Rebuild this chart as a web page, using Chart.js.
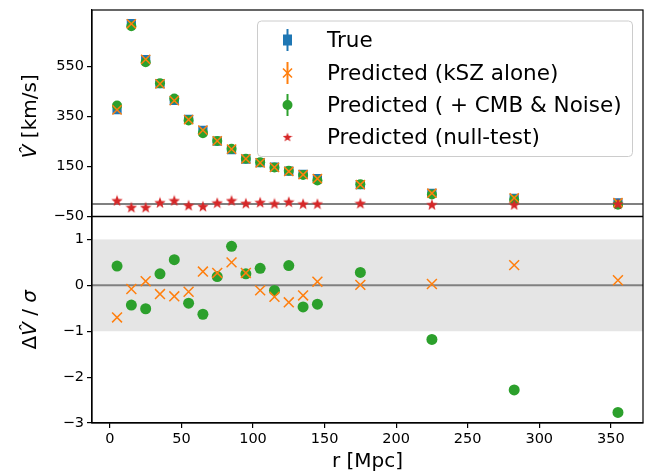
<!DOCTYPE html>
<html>
<head>
<meta charset="utf-8">
<script src="https://cdn.jsdelivr.net/npm/chart.js@4.4.0/dist/chart.umd.min.js"></script>
<style>
  html, body { margin: 0; padding: 0; background: #fff; }
  #wrap { position: relative; width: 647px; height: 475px; }
</style>
</head>
<body>
<div id="wrap"><canvas id="chart" width="647" height="475" style="width:647px;height:475px"></canvas></div>
<script>
// radial bins [Mpc]
const R = [5, 15, 25, 35, 45, 55, 65, 75, 85, 95, 105, 115, 125, 135, 145, 175, 225, 282.5, 355];

// top panel: velocity [km/s]
const V_TRUE = [377, 721, 577, 481, 414, 338, 294, 251, 217, 179, 165, 147, 131, 118, 101, 77, 43, 23, 5];
const V_KSZ  = [376, 720, 578, 480, 413, 337, 295, 252, 219, 180, 164, 146, 130, 117, 101, 77, 43, 24, 5];
const V_CMB  = [393, 710, 566, 482, 421, 334, 283, 252, 221, 181, 167, 146, 133, 116, 94, 79, 38, 17, -3];
const V_NULL = [14, -13, -13, 6, 14, -5, -9, 5, 14, 3, 7, 2, 9, 1, 1, 3, -2, -2, 1];

// bottom panel: residuals in units of sigma
const D_KSZ = [-0.70, -0.08, 0.09, -0.19, -0.24, -0.14, 0.30, 0.27, 0.50, 0.27, -0.11, -0.25, -0.37, -0.22, 0.08, 0.01, 0.03, 0.44, 0.11];
const D_CMB = [0.42, -0.43, -0.51, 0.25, 0.56, -0.39, -0.63, 0.19, 0.85, 0.25, 0.37, -0.11, 0.43, -0.47, -0.41, 0.28, -1.18, -2.28, -2.77];

// axes
const X_TICKS = [0, 50, 100, 150, 200, 250, 300, 350];
const V_TICKS = [-50, 150, 350, 550];
const D_TICKS = [-3, -2, -1, 0, 1];
const X_RANGE = [-12.5, 372.5];
const V_RANGE = [-50, 775];
const D_RANGE = [-3, 1.5];
const BAND = [-1, 1];

const LABELS = ['True', 'Predicted (kSZ alone)', 'Predicted ( + CMB & Noise)', 'Predicted (null-test)'];
const COLORS = ['#1f77b4', '#ff7f0e', '#2ca02c', '#d62728'];

const FONT = 'DejaVu Sans';

function pts(xs, ys) {
  return xs.map((x, i) => ({ x, y: ys[i] }));
}

function makeStar(size, color) {
  const c = document.createElement('canvas');
  c.width = c.height = size;
  const g = c.getContext('2d');
  const ro = size / 2, ri = ro * 0.42;
  const cx = size / 2, cy = size / 2 + size * 0.05;
  g.beginPath();
  for (let i = 0; i < 10; i++) {
    const r = i % 2 ? ri : ro;
    const a = -Math.PI / 2 + i * Math.PI / 5;
    g.lineTo(cx + r * Math.cos(a), cy + r * Math.sin(a));
  }
  g.closePath();
  g.fillStyle = color;
  g.fill();
  return c;
}

const star = makeStar(12, COLORS[3]);

const fixedTicks = values => scale => { scale.ticks = values.map(v => ({ value: v })); };
const minus = v => String(v).replace('-', '\u2212');
const noPad = s => { s.paddingLeft = s.paddingRight = s.paddingTop = s.paddingBottom = 0; };

function axisStyle() {
  return {
    grid: { display: true, drawOnChartArea: false, drawTicks: true, tickLength: 5, color: '#000', lineWidth: 1.2 },
    border: { display: true, color: '#000', width: 1.2 },
    ticks: { font: { family: FONT, size: 14.5 }, color: '#000', padding: 3, autoSkip: false, maxRotation: 0, callback: minus }
  };
}

// draw text pieces with mixed italic/upright, rotated
function drawRotatedTitle(ctx, parts, cx, cy, size) {
  ctx.save();
  ctx.translate(cx, cy);
  ctx.rotate(-Math.PI / 2);
  ctx.fillStyle = '#000';
  ctx.textBaseline = 'middle';
  ctx.textAlign = 'left';
  let total = 0;
  const widths = parts.map(p => {
    ctx.font = (p.italic ? 'italic ' : '') + size + 'px ' + FONT;
    const w = ctx.measureText(p.t).width;
    total += w;
    return w;
  });
  let x = -total / 2;
  parts.forEach((p, i) => {
    ctx.font = (p.italic ? 'italic ' : '') + size + 'px ' + FONT;
    ctx.fillText(p.t, x, 0);
    x += widths[i];
  });
  ctx.restore();
}

const panelPlugin = {
  id: 'panels',
  beforeDatasetsDraw(chart) {
    const { ctx, chartArea: a, scales } = chart;
    const yb = scales.yBot, yt = scales.yTop;
    ctx.save();
    ctx.fillStyle = '#e5e5e5';
    const t = yb.getPixelForValue(BAND[1]), b = yb.getPixelForValue(BAND[0]);
    ctx.fillRect(a.left, t, a.right - a.left, b - t);
    ctx.strokeStyle = '#808080';
    ctx.lineWidth = 2;
    [yt, yb].forEach(s => {
      const y = s.getPixelForValue(0);
      ctx.beginPath();
      ctx.moveTo(a.left, y);
      ctx.lineTo(a.right, y);
      ctx.stroke();
    });
    ctx.restore();
  },
  afterDraw(chart) {
    const { ctx, chartArea: a, scales } = chart;
    ctx.save();
    // frames
    ctx.strokeStyle = '#000';
    ctx.lineWidth = 1.2;
    ctx.strokeRect(a.left, a.top, a.right - a.left, a.bottom - a.top);
    const mid = scales.yTop.bottom;
    ctx.lineWidth = 1.6;
    ctx.beginPath();
    ctx.moveTo(a.left, mid);
    ctx.lineTo(a.right, mid);
    ctx.stroke();

    // y titles
    drawRotatedTitle(ctx, [{ t: 'V\u0302', italic: true }, { t: ' [km/s]' }],
      31, (scales.yTop.top + scales.yTop.bottom) / 2 + 3, 20);
    drawRotatedTitle(ctx, [{ t: '\u0394' }, { t: 'V\u0302', italic: true }, { t: ' / ' }, { t: '\u03c3', italic: true }],
      31, (scales.yBot.top + scales.yBot.bottom) / 2, 20);

    // legend
    const L = { left: 257.5, top: 21, right: 632.5, bottom: 156.5 };
    ctx.fillStyle = 'rgba(255,255,255,0.8)';
    ctx.strokeStyle = '#cccccc';
    ctx.lineWidth = 1;
    ctx.beginPath();
    ctx.roundRect(L.left, L.top, L.right - L.left, L.bottom - L.top, 4);
    ctx.fill();
    ctx.stroke();

    const mx = 287.5, tx = 327;
    const rows = [40, 73, 105, 137];
    ctx.font = '21.5px ' + FONT;
    ctx.textBaseline = 'middle';
    ctx.textAlign = 'left';
    rows.forEach((y, i) => {
      const col = COLORS[i];
      if (i < 3) {
        ctx.strokeStyle = col;
        ctx.lineWidth = 2;
        ctx.beginPath();
        ctx.moveTo(mx, y - 11);
        ctx.lineTo(mx, y + 11);
        ctx.stroke();
      }
      if (i === 0) {
        ctx.fillStyle = col;
        ctx.fillRect(mx - 4.5, y - 5.5, 9, 11);
      } else if (i === 1) {
        ctx.strokeStyle = col;
        ctx.lineWidth = 1.6;
        ctx.beginPath();
        ctx.moveTo(mx - 4.5, y - 4.5); ctx.lineTo(mx + 4.5, y + 4.5);
        ctx.moveTo(mx + 4.5, y - 4.5); ctx.lineTo(mx - 4.5, y + 4.5);
        ctx.stroke();
      } else if (i === 2) {
        ctx.fillStyle = col;
        ctx.beginPath();
        ctx.arc(mx, y, 5, 0, Math.PI * 2);
        ctx.fill();
      } else {
        ctx.drawImage(makeStar(10, col), mx - 5, y - 5);
      }
      ctx.fillStyle = '#000';
      ctx.fillText(LABELS[i], tx, y + 1);
    });
    ctx.restore();
  }
};

const xAxis = axisStyle();
const yBotAxis = axisStyle();
const yTopAxis = axisStyle();

new Chart(document.getElementById('chart'), {
  type: 'scatter',
  data: {
    datasets: [
      { label: LABELS[0], data: pts(R, V_TRUE), yAxisID: 'yTop', order: 4,
        pointStyle: 'rect', pointRadius: 6.5, backgroundColor: COLORS[0], borderColor: COLORS[0], borderWidth: 0 },
      { label: LABELS[1], data: pts(R, V_KSZ), yAxisID: 'yTop', order: 2,
        pointStyle: 'crossRot', pointRadius: 6.5, borderColor: COLORS[1], borderWidth: 1.5 },
      { label: LABELS[2], data: pts(R, V_CMB), yAxisID: 'yTop', order: 3,
        pointStyle: 'circle', pointRadius: 5, backgroundColor: COLORS[2], borderWidth: 0 },
      { label: LABELS[3], data: pts(R, V_NULL), yAxisID: 'yTop', order: 1,
        pointStyle: star, pointRadius: 6 },
      { label: LABELS[1], data: pts(R, D_KSZ), yAxisID: 'yBot', order: 2,
        pointStyle: 'crossRot', pointRadius: 7, borderColor: COLORS[1], borderWidth: 1.5 },
      { label: LABELS[2], data: pts(R, D_CMB), yAxisID: 'yBot', order: 3,
        pointStyle: 'circle', pointRadius: 5.5, backgroundColor: COLORS[2], borderWidth: 0 }
    ]
  },
  options: {
    responsive: false,
    animation: false,
    layout: { autoPadding: false, padding: { top: 10, right: 4, left: 0, bottom: 0 } },
    plugins: { legend: { display: false }, tooltip: { enabled: false } },
    scales: {
      x: {
        ...xAxis,
        type: 'linear', min: X_RANGE[0], max: X_RANGE[1],
        afterBuildTicks: fixedTicks(X_TICKS),
        afterFit: s => { s.height = 52; noPad(s); },
        title: { display: true, text: 'r [Mpc]', color: '#000', font: { family: FONT, size: 20 }, padding: { top: 0, bottom: 1 } }
      },
      yBot: {
        ...yBotAxis,
        type: 'linear', position: 'left', stack: 'panels', stackWeight: 1,
        min: D_RANGE[0], max: D_RANGE[1],
        afterBuildTicks: fixedTicks(D_TICKS),
        afterFit: s => { s.width = 92; noPad(s); }
      },
      yTop: {
        ...yTopAxis,
        type: 'linear', position: 'left', stack: 'panels', stackWeight: 1,
        min: V_RANGE[0], max: V_RANGE[1],
        afterBuildTicks: fixedTicks(V_TICKS),
        afterFit: s => { s.width = 92; noPad(s); }
      }
    }
  },
  plugins: [panelPlugin]
});
</script>
</body>
</html>
